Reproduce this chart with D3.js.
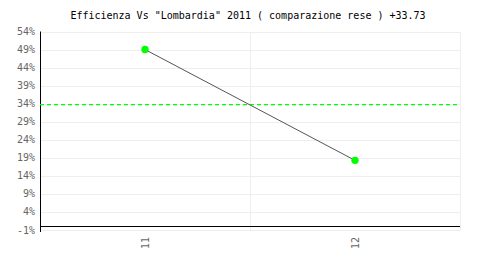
<!DOCTYPE html>
<html><head><meta charset="utf-8">
<script src="https://cdn.jsdelivr.net/npm/d3@7"></script>
<style>body{margin:0;background:#fff}svg{display:block}</style>
</head><body>
<script>
const categories = ["11", "12"];
const values = [49.0, 18.3];
const reference = 33.73;
const yTicks = [-1, 4, 9, 14, 19, 24, 29, 34, 39, 44, 49, 54];
const title = 'Efficienza Vs "Lombardia" 2011 ( comparazione rese ) +33.73';

const W = 500, H = 280;
const m = {left: 40, right: 40, top: 31.5, bottom: 50};
const svg = d3.select("body").append("svg").attr("width", W).attr("height", H);
const x = d3.scaleBand().domain(categories).range([m.left, W - m.right]);
const y = d3.scaleLinear().domain([-1, 54]).range([H - m.bottom, m.top]);
const font = "'DejaVu Sans Mono', monospace";

// grid
svg.append("g").selectAll("line").data(yTicks).join("line")
  .attr("x1", m.left).attr("x2", W - m.right)
  .attr("y1", d => Math.round(y(d)) + 0.5).attr("y2", d => Math.round(y(d)) + 0.5)
  .attr("stroke", "#eeeeee");
const vx = [m.left, ...categories.map(c => x(c) + x.bandwidth())];
svg.append("g").selectAll("line").data(vx.slice(1)).join("line")
  .attr("x1", d => Math.round(d) + 0.5).attr("x2", d => Math.round(d) + 0.5)
  .attr("y1", m.top).attr("y2", H - m.bottom)
  .attr("stroke", "#eeeeee");

// y labels
svg.append("g").selectAll("text").data(yTicks).join("text")
  .attr("x", 35).attr("y", d => y(d) + 3.5)
  .attr("text-anchor", "end").attr("fill", "#666")
  .attr("font-family", font).attr("font-size", 10)
  .text(d => d + "%");

// axes
svg.append("line").attr("x1", m.left + 0.5).attr("x2", m.left + 0.5)
  .attr("y1", m.top).attr("y2", H - m.bottom + 2).attr("stroke", "#000");
svg.append("line").attr("x1", m.left).attr("x2", W - m.right)
  .attr("y1", Math.round(y(0)) + 0.5).attr("y2", Math.round(y(0)) + 0.5).attr("stroke", "#000");

// x labels
svg.append("g").selectAll("text").data(categories).join("text")
  .attr("transform", d => `translate(${x(d) + x.bandwidth() / 2 + 4},${H - m.bottom + 7}) rotate(-90)`)
  .attr("text-anchor", "end").attr("fill", "#666")
  .attr("font-family", font).attr("font-size", 10)
  .text(d => d);

// reference line
svg.append("line").attr("x1", m.left).attr("x2", W - m.right)
  .attr("y1", y(reference)).attr("y2", y(reference))
  .attr("stroke", "#00ff00").attr("stroke-width", 1.3).attr("stroke-dasharray", "4,3");

// series line
const pts = categories.map((c, i) => [x(c) + x.bandwidth() / 2, y(values[i])]);
svg.append("path").attr("d", d3.line()(pts)).attr("fill", "none")
  .attr("stroke", "#555").attr("stroke-width", 1);
svg.append("g").selectAll("circle").data(pts).join("circle")
  .attr("cx", d => d[0]).attr("cy", d => d[1]).attr("r", 3.7).attr("fill", "#00ff00");

// title
svg.append("text").attr("x", 248).attr("y", 19).attr("text-anchor", "middle")
  .attr("font-family", font).attr("font-size", 10).attr("fill", "#000").text(title);
</script>
</body></html>
